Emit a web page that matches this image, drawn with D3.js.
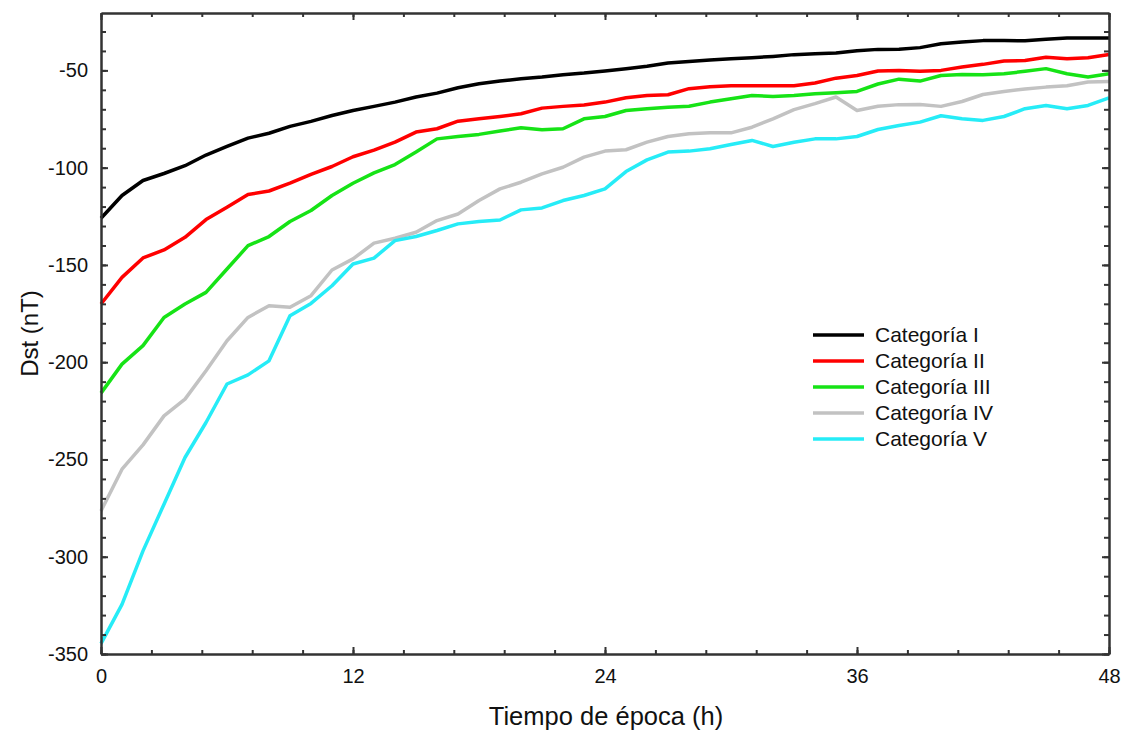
<!DOCTYPE html>
<html>
<head>
<meta charset="utf-8">
<script src="https://cdn.jsdelivr.net/npm/d3@7"></script>
<style>
  body { margin: 0; background: #fff; }
  text { font-family: "Liberation Sans", Arial, sans-serif; fill: #111; }
</style>
</head>
<body>
<svg id="chart" width="1126" height="731"></svg>
<script>
// hours after epoch
var hours = d3.range(0, 49);

var catI = [-126, -114.3, -106.6, -103, -99, -93.5, -89.1, -84.8, -82.3, -78.8, -76.2, -73.2, -70.6, -68.5, -66.3,
  -63.7, -61.7, -58.9, -56.9, -55.5, -54.3, -53.4, -52.2, -51.4, -50.3, -49.1, -47.9, -46.2, -45.4, -44.7, -44,
  -43.5, -42.8, -41.9, -41.4, -41.1, -39.9, -39.2, -39.1, -38.3, -36.3, -35.4, -34.7, -34.7, -34.8, -34, -33.4, -33.4, -33.4];
var catII = [-170.1, -156.4, -146.4, -142.3, -135.8, -126.7, -120.3, -113.8, -112, -108, -103.5, -99.4, -94.4, -91, -86.9,
  -81.7, -80, -76.1, -74.9, -73.7, -72.3, -69.4, -68.5, -67.8, -66.3, -64.1, -62.9, -62.5, -59.4, -58.4, -57.9,
  -57.9, -57.9, -57.9, -56.5, -54, -52.6, -50.3, -50, -50.5, -50, -48.3, -46.9, -45.2, -44.9, -43.3, -44, -43.5, -41.8];
var catIII = [-215.9, -201, -191.5, -177, -170.1, -164.1, -152.1, -140.1, -135.4, -127.7, -122, -114.3, -108, -102.7, -98.4,
  -92, -85.2, -84, -82.9, -81.2, -79.5, -80.5, -80, -74.9, -73.7, -70.6, -69.7, -68.9, -68.4, -66.3, -64.6,
  -62.9, -63.4, -62.9, -62, -61.5, -60.8, -57, -54.5, -55.5, -52.6, -52.1, -52.3, -51.7, -50.5, -49.1, -51.7, -53.4, -51.7];
var catIV = [-276.5, -255, -242.5, -227.6, -219, -204.4, -189, -177, -171, -171.8, -165.8, -152.6, -146.9, -138.8, -136.3,
  -133.2, -127.2, -123.8, -116.9, -110.9, -107.5, -103.2, -99.8, -94.6, -91.5, -90.8, -86.9, -84, -82.6, -82.1, -82.1,
  -79.2, -74.9, -70.2, -67.1, -63.7, -70.6, -68.4, -67.6, -67.5, -68.5, -66, -62.4, -60.8, -59.6, -58.6, -57.9, -56, -55.7];
var catV = [-344.7, -324.5, -297, -273, -249, -231, -211.2, -206.5, -199.3, -176.1, -169.8, -160.7, -149.5, -146.5, -137.5,
  -135.4, -132.3, -128.9, -127.7, -126.9, -121.7, -120.7, -116.9, -114.3, -110.9, -102, -96, -92, -91.5, -90.3, -88.1,
  -86, -89.1, -86.9, -85.2, -85.2, -84, -80.4, -78.3, -76.6, -73.3, -74.9, -75.7, -73.7, -69.7, -68, -69.7, -68, -64.1];

var names = ["Categoría I", "Categoría II", "Categoría III", "Categoría IV", "Categoría V"];
var colors = ["#000000", "#ff0000", "#16e316", "#c2c2c2", "#26ecf7"];
var xTickLabels = [0, 12, 24, 36, 48];
var yTickLabels = [-350, -300, -250, -200, -150, -100, -50];

var seriesList = [catI, catII, catIII, catIV, catV];

var margin = {top: 13, right: 17, bottom: 77, left: 101};
var width = 1126 - margin.left - margin.right;
var height = 731 - margin.top - margin.bottom;

var svg = d3.select("#chart");
var g = svg.append("g").attr("transform", `translate(${margin.left},${margin.top})`);

var x = d3.scaleLinear().domain([0, 48]).range([0, width]);
var y = d3.scaleLinear().domain([-350, -20.5]).range([height, 0]);

var xMinor = d3.range(0, 48.01, 2.4);
var yMinor = d3.range(-350, -20, 10);

// lines
var line = d3.line()
  .x((d, i) => x(hours[i]))
  .y(d => y(d));

g.selectAll("path.series")
  .data(seriesList)
  .enter().append("path")
  .attr("class", "series")
  .attr("fill", "none")
  .attr("stroke", (d, i) => colors[i])
  .attr("stroke-width", 3.5)
  .attr("stroke-linejoin", "round")
  .attr("d", line);

// axes: major + minor ticks, all pointing inside
function styleAxis(sel) {
  sel.selectAll(".domain").attr("stroke", "#333").attr("stroke-width", 2);
  sel.selectAll(".tick line").attr("stroke", "#333").attr("stroke-width", 2);
  sel.selectAll("text").attr("font-size", 20).attr("fill", "#111")
    .style("font-family", '"Liberation Sans", Arial, sans-serif');
}

var plain = d => String(d);  // plain hyphen, as in the original

g.append("g").attr("transform", `translate(0,${height})`)
  .call(d3.axisBottom(x).tickValues(xMinor).tickSize(-4).tickSizeOuter(0).tickFormat(""))
  .call(styleAxis);
g.append("g").attr("transform", `translate(0,${height})`)
  .call(d3.axisBottom(x).tickValues(xTickLabels).tickSize(-7).tickSizeOuter(0).tickPadding(15).tickFormat(plain))
  .call(styleAxis);

g.append("g")
  .call(d3.axisTop(x).tickValues(xMinor).tickSize(-4).tickSizeOuter(0).tickFormat(""))
  .call(styleAxis);
g.append("g")
  .call(d3.axisTop(x).tickValues(xTickLabels).tickSize(-7).tickSizeOuter(0).tickFormat(""))
  .call(styleAxis);

g.append("g")
  .call(d3.axisLeft(y).tickValues(yMinor).tickSize(-5).tickSizeOuter(0).tickFormat(""))
  .call(styleAxis);
g.append("g")
  .call(d3.axisLeft(y).tickValues(yTickLabels).tickSize(-7).tickSizeOuter(0).tickPadding(13).tickFormat(plain))
  .call(styleAxis);

g.append("g").attr("transform", `translate(${width},0)`)
  .call(d3.axisRight(y).tickValues(yMinor).tickSize(-5).tickSizeOuter(0).tickFormat(""))
  .call(styleAxis);
g.append("g").attr("transform", `translate(${width},0)`)
  .call(d3.axisRight(y).tickValues(yTickLabels).tickSize(-7).tickSizeOuter(0).tickFormat(""))
  .call(styleAxis);

// axis titles
svg.append("text")
  .attr("x", 606)
  .attr("y", 725)
  .attr("text-anchor", "middle")
  .attr("font-size", 25.5)
  .text("Tiempo de época (h)");

svg.append("text")
  .attr("transform", `translate(38,${margin.top + height / 2}) rotate(-90)`)
  .attr("text-anchor", "middle")
  .attr("font-size", 24)
  .text("Dst (nT)");

// legend
var legend = svg.append("g").attr("transform", "translate(813,335)");
var item = legend.selectAll("g")
  .data(names)
  .enter().append("g")
  .attr("transform", (d, i) => `translate(0,${i * 26})`);
item.append("line")
  .attr("x1", 0).attr("x2", 51)
  .attr("stroke", (d, i) => colors[i])
  .attr("stroke-width", 3.5);
item.append("text")
  .attr("x", 62)
  .attr("dy", "0.35em")
  .attr("font-size", 21)
  .text(d => d);
</script>
</body>
</html>
